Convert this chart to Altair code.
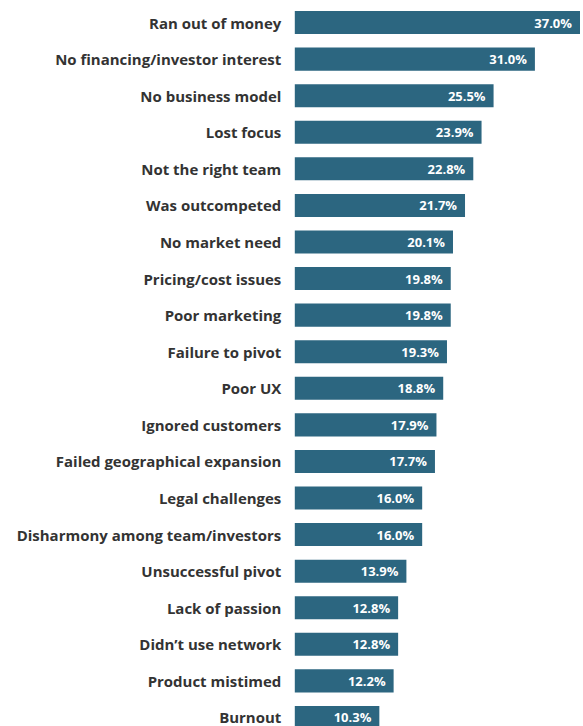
import altair as alt
import pandas as pd

categories = [
    "Ran out of money", "No financing/investor interest", "No business model",
    "Lost focus", "Not the right team", "Was outcompeted", "No market need",
    "Pricing/cost issues", "Poor marketing", "Failure to pivot", "Poor UX",
    "Ignored customers", "Failed geographical expansion", "Legal challenges",
    "Disharmony among team/investors", "Unsuccessful pivot", "Lack of passion",
    "Didn’t use network", "Product mistimed", "Burnout",
]
values = [37.0, 31.0, 25.5, 23.9, 22.8, 21.7, 20.1, 19.8, 19.8, 19.3, 18.8,
          17.9, 17.7, 16.0, 16.0, 13.9, 12.8, 12.8, 12.2, 10.3]

df = pd.DataFrame({"reason": categories, "pct": values})
df["label"] = [f"{v:.1f}%" for v in values]

FONT = "Open Sans"
BAR = "#2c6680"
XMIN = -0.95

y = alt.Y("reason:N", sort=categories,
          scale=alt.Scale(range=[0, 732], paddingInner=0.37, paddingOuter=0.185),
          axis=alt.Axis(title=None, domain=False, ticks=False, labelPadding=14,
                        labelFont=FONT, labelFontSize=15, labelFontWeight="bold",
                        labelColor="#333333", labelLimit=300, labelOffset=1))
x = alt.X("pct:Q", scale=alt.Scale(domain=[XMIN, 37], nice=False, zero=False),
          axis=None)

bars = alt.Chart(df).mark_bar(color=BAR, cornerRadius=0).encode(
    x=x, x2=alt.X2(datum=XMIN), y=y)
text = alt.Chart(df).mark_text(align="right", baseline="middle", dx=-8, dy=1,
                               font=FONT, fontSize=13, fontWeight="bold",
                               color="white").encode(
    x=x, y=alt.Y("reason:N", sort=categories), text="label:N")

chart = (bars + text).properties(
    width=285.4, height=722,
    autosize="none",
    padding={"left": 295, "top": 4, "right": 3, "bottom": 0},
    background="white",
).configure_view(stroke=None)

chart.save("out.html", embed_options={"renderer": "svg", "actions": False})
